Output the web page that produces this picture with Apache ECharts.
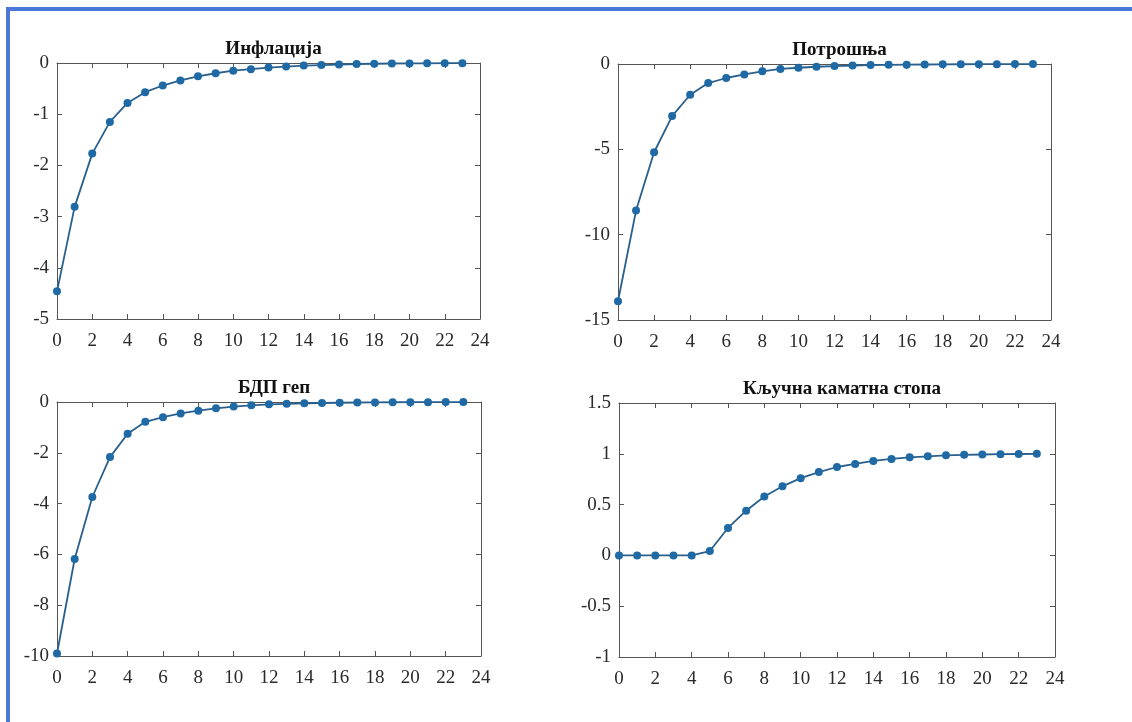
<!DOCTYPE html>
<html>
<head>
<meta charset="utf-8">
<script src="https://cdn.jsdelivr.net/npm/echarts@6/dist/echarts.min.js"></script>
<style>
  html, body { margin: 0; padding: 0; background: #fff; }
  #main { width: 1132px; height: 722px; }
  #frame {
    position: absolute; left: 6px; top: 7px; right: -10px; bottom: -10px;
    border-left: 4px solid #4a78d6; border-top: 4px solid #4a78d6;
    pointer-events: none;
  }
</style>
</head>
<body>
<div id="main"></div>
<div id="frame"></div>
<script>
var chart = echarts.init(document.getElementById('main'));

// horizon 0..23
var periods = [];
for (var i = 0; i < 24; i++) periods.push(i);

var titles = ['Инфлација', 'Потрошња', 'БДП геп', 'Кључна каматна стопа'];

var inflation = [-4.46, -2.81, -1.77, -1.15, -0.78, -0.57, -0.44, -0.34, -0.26, -0.20,
    -0.15, -0.12, -0.09, -0.07, -0.05, -0.04, -0.03, -0.02, -0.015, -0.01,
    -0.008, -0.006, -0.004, -0.003];
var consumption = [-13.9, -8.59, -5.17, -3.05, -1.80, -1.12, -0.82, -0.61, -0.43, -0.29,
    -0.22, -0.16, -0.12, -0.09, -0.06, -0.05, -0.04, -0.03, -0.02, -0.015,
    -0.01, -0.008, -0.006, -0.004];
var gdpGap = [-9.9, -6.18, -3.74, -2.17, -1.25, -0.78, -0.60, -0.45, -0.34, -0.25,
    -0.18, -0.13, -0.09, -0.07, -0.05, -0.04, -0.03, -0.02, -0.015, -0.01,
    -0.008, -0.006, -0.004, -0.003];
var policyRate = [0, 0, 0, 0, 0, 0.043, 0.27, 0.44, 0.58, 0.68,
    0.76, 0.82, 0.87, 0.90, 0.93, 0.95, 0.965, 0.975, 0.985, 0.99,
    0.993, 0.996, 0.998, 1.0];

var seriesData = [inflation, consumption, gdpGap, policyRate];
var yMin = [-5, -15, -10, -1];
var yMax = [0, 0, 0, 1.5];
var yStep = [1, 5, 2, 0.5];

var grids = [
    {left: 57, top: 63, width: 423, height: 256},
    {left: 618, top: 64, width: 433, height: 256},
    {left: 57, top: 402, width: 424, height: 254},
    {left: 619, top: 403, width: 436, height: 254}
];

var axisColor = '#555';
var textColor = '#2a2a2a';
var fontFam = '"Liberation Serif", "Times New Roman", serif';

var titleList = [], xAxes = [], yAxes = [], series = [];

for (var k = 0; k < 4; k++) {
    var g = grids[k];
    titleList.push({
        text: titles[k],
        left: g.left + g.width / 2,
        top: g.top - 28,
        textAlign: 'center',
        textStyle: {fontFamily: fontFam, fontWeight: 'bold', fontSize: 19, color: '#111'}
    });
    // bottom axis with labels
    xAxes.push({
        type: 'value', gridIndex: k, position: 'bottom', min: 0, max: 24, interval: 2,
        axisLine: {show: true, onZero: false, lineStyle: {color: axisColor, width: 1}},
        axisTick: {show: true, inside: true, length: 5, lineStyle: {color: axisColor}},
        axisLabel: {margin: 13, color: textColor, fontFamily: fontFam, fontSize: 19},
        splitLine: {show: false}
    });
    // top mirror axis
    xAxes.push({
        type: 'value', gridIndex: k, position: 'top', min: 0, max: 24, interval: 2,
        axisLine: {show: true, onZero: false, lineStyle: {color: axisColor, width: 1}},
        axisTick: {show: true, inside: true, length: 5, lineStyle: {color: axisColor}},
        axisLabel: {show: false},
        splitLine: {show: false}
    });
    yAxes.push({
        type: 'value', gridIndex: k, position: 'left', min: yMin[k], max: yMax[k], interval: yStep[k],
        axisLine: {show: true, onZero: false, lineStyle: {color: axisColor, width: 1}},
        axisTick: {show: true, inside: true, length: 5, lineStyle: {color: axisColor}},
        axisLabel: {margin: 8, color: textColor, fontFamily: fontFam, fontSize: 19},
        splitLine: {show: false}
    });
    yAxes.push({
        type: 'value', gridIndex: k, position: 'right', min: yMin[k], max: yMax[k], interval: yStep[k],
        axisLine: {show: true, onZero: false, lineStyle: {color: axisColor, width: 1}},
        axisTick: {show: true, inside: true, length: 5, lineStyle: {color: axisColor}},
        axisLabel: {show: false},
        splitLine: {show: false}
    });

    var pts = [];
    for (var i = 0; i < periods.length; i++) pts.push([periods[i], seriesData[k][i]]);
    series.push({
        name: titles[k],
        type: 'line',
        xAxisIndex: k * 2,
        yAxisIndex: k * 2,
        data: pts,
        symbol: 'circle',
        symbolSize: 8,
        itemStyle: {color: '#1f6aa5'},
        lineStyle: {color: '#2a5f8c', width: 1.8},
        animation: false
    });
}

chart.setOption({
    backgroundColor: '#fff',
    title: titleList,
    grid: grids,
    xAxis: xAxes,
    yAxis: yAxes,
    series: series
});

window.onresize = function () {
    chart.resize();
};
</script>
</body>
</html>
